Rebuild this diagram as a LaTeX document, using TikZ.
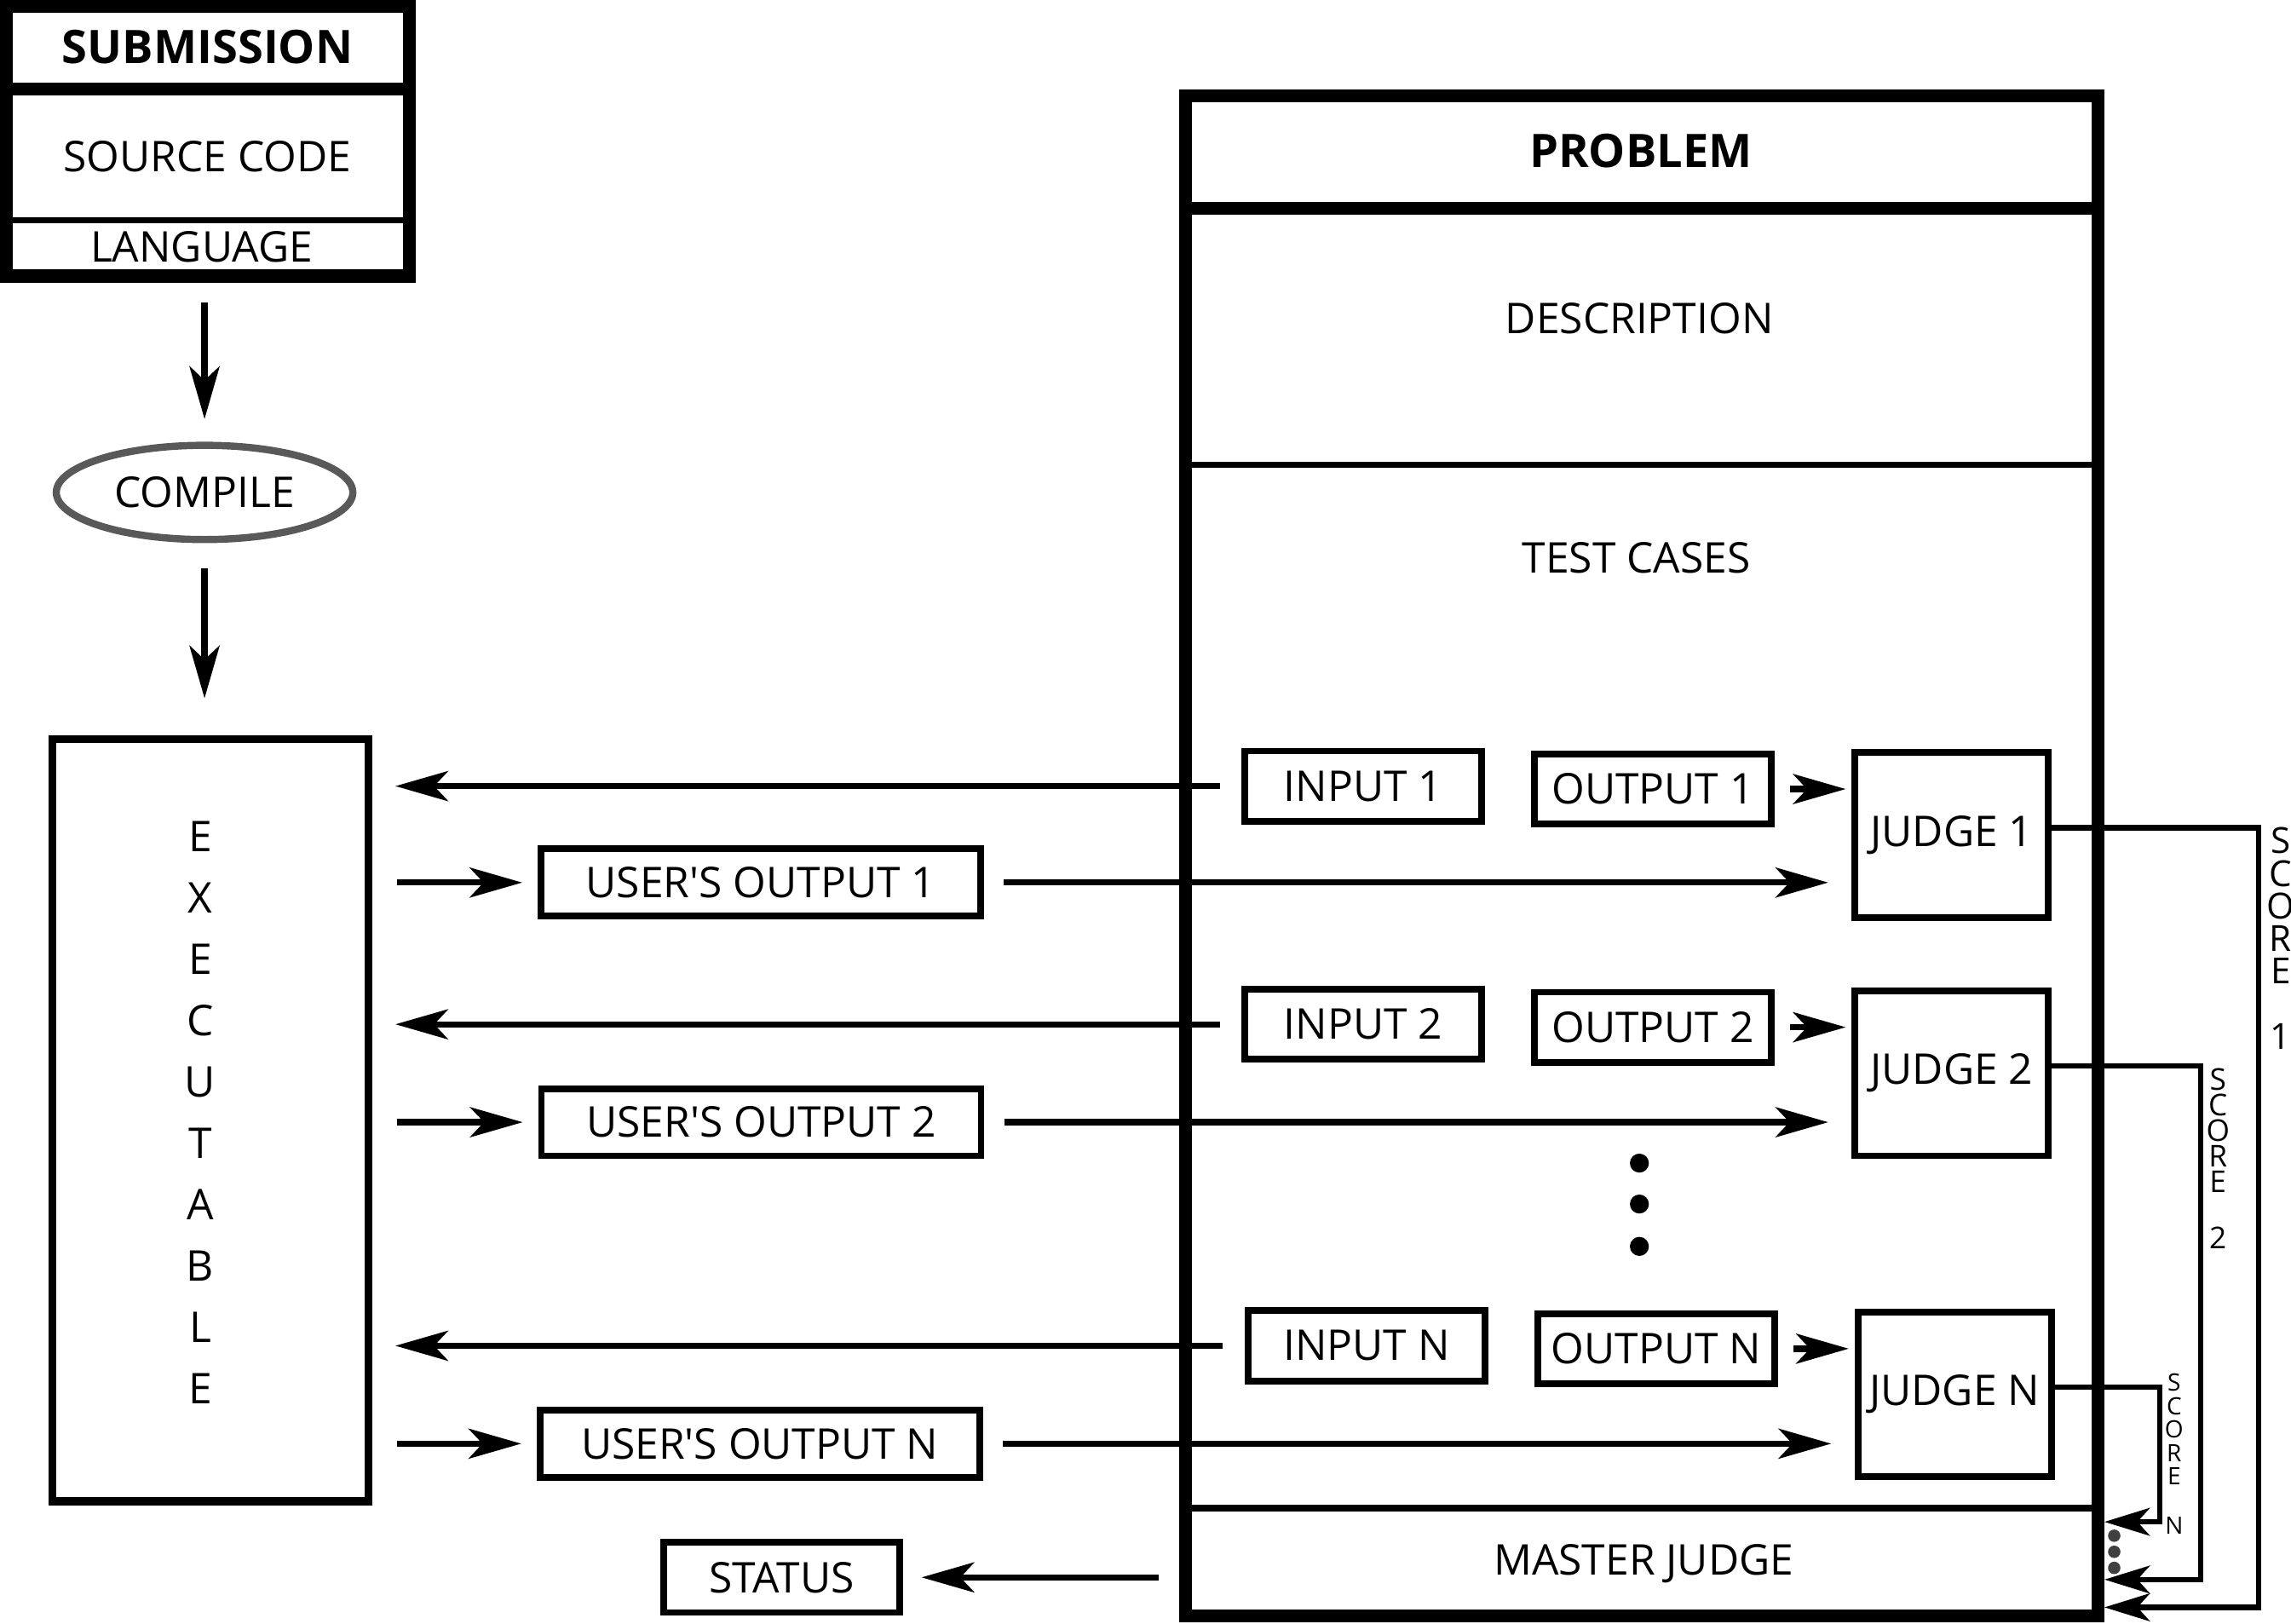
\documentclass[tikz,border=0pt]{standalone}
\usepackage{fontspec}
\setmainfont{Open Sans}
\usetikzlibrary{arrows.meta,shapes.geometric}

\begin{document}
\begin{tikzpicture}[x=0.02cm, y=-0.02cm,
		txt/.style={font=\fontsize{16.5}{20}\selectfont, inner sep=0pt},
		ttl/.style={font=\fontsize{18}{22}\selectfont\bfseries, inner sep=0pt},
		box/.style={draw, line width=2.6pt, txt, minimum width=3.24cm, minimum height=0.96cm},
		judgebox/.style={box, minimum width=2.65cm, minimum height=2.26cm},
		uobox/.style={box, minimum width=6.02cm, minimum height=0.92cm},
		arr/.style={line width=2.4pt, -{Stealth[length=0.72cm, width=0.41cm, inset=0.19cm]}},
		scorearr/.style={line width=2.1pt, -{Stealth[length=0.62cm, width=0.38cm, inset=0.17cm]}},
		vword/.style={anchor=north, inner sep=0pt, align=center}]
		%%%%% START %%%%%
		
		\useasboundingbox (0, 0) rectangle (1568, 1111);
		
		\node[draw, line width=5pt, inner sep=0pt, minimum width=5.51cm, minimum height=3.69cm] (submission) at (142.2, 96.7) {};
		\draw[line width=5pt] (4.4, 61) -- (280, 61);
		\draw[line width=2.3pt] (4.4, 151) -- (280, 151);
		\node[ttl] (subtitle) at (142, 32) {SUBMISSION};
		\node[txt] (source) at (142, 107) {SOURCE CODE};
		\node[txt] (language) at (138, 169) {LANGUAGE};
		
		\node[ellipse, draw=black!65, line width=2.8pt, txt, minimum width=4.06cm, minimum height=1.29cm] (compile) at (140, 337) {COMPILE};
		\node[draw, line width=3pt, inner sep=0pt, minimum width=4.32cm, minimum height=10.43cm] (exe) at (144, 766.75) {};
		\node[vword, font=\fontsize{16.5}{23.9}\selectfont] (exetext) at (137, 562) {E\\X\\E\\C\\U\\T\\A\\B\\L\\E};
		
		\draw[arr, shorten <=0.27cm, shorten >=0.31cm] (submission.south -| compile) -- (compile.north);
		\draw[arr, shorten <=0.34cm, shorten >=0.51cm] (compile.south) -- (compile |- exe.north);
		
		% problem
		\node[draw, line width=5pt, inner sep=0pt, minimum width=12.49cm, minimum height=20.81cm] (problem) at (1123.75, 585.75) {};
		\draw[line width=5pt] (811.5, 142.5) -- (1436, 142.5);
		\draw[line width=2.3pt] (811.5, 318) -- (1436, 318);
		\draw[line width=2.6pt] (811.5, 1032) -- (1436, 1032);
		\node[ttl] (probtitle) at (1123, 103) {PROBLEM};
		\node[txt] (description) at (1122, 218) {DESCRIPTION};
		\node[txt] (testcases) at (1120, 382) {TEST CASES};
		\node[txt] (master) at (1125, 1070) {MASTER JUDGE};
		
		\node[box] (in1) at (933, 538) {INPUT 1};
		\node[box] (out1) at (1131.25, 540) {OUTPUT 1};
		\node[judgebox] (judge1) at (1335.75, 571.5) {JUDGE 1};
		\node[box] (in2) at (933, 701) {INPUT 2};
		\node[box] (out2) at (1131.25, 703) {OUTPUT 2};
		\node[judgebox] (judge2) at (1335.75, 734.5) {JUDGE 2};
		\node[box] (inN) at (935.3, 921) {INPUT N};
		\node[box] (outN) at (1133.5, 923) {OUTPUT N};
		\node[judgebox] (judgeN) at (1337.8, 954.25) {JUDGE N};
		
		\fill (1122, 796) circle (0.13cm);
		\fill (1122, 824) circle (0.13cm);
		\fill (1122, 853) circle (0.13cm);
		
		\node[uobox] (uo1) at (520.7, 604) {USER\textquotesingle S OUTPUT 1};
		\node[uobox] (uo2) at (521, 768) {USER\textquotesingle S OUTPUT 2};
		\node[uobox] (uoN) at (520, 988) {USER\textquotesingle S OUTPUT N};
		\node[box] (status) at (535, 1079.5) {STATUS};
		
		\draw[arr, shorten <=0.3cm, shorten >=0.32cm] (in1.west) -- (exe.east |- in1.west);
		\draw[arr, shorten <=0.34cm, shorten >=0.21cm] (exe.east |- uo1.west) -- (uo1.west);
		\draw[arr, shorten <=0.27cm, shorten >=0.32cm] (uo1.east) -- (judge1.west |- uo1.east);
		\draw[arr, shorten <=0.21cm, shorten >=0.08cm] (out1.east) -- (judge1.west |- out1.east);
		
		\draw[arr, shorten <=0.3cm, shorten >=0.32cm] (in2.west) -- (exe.east |- in2.west);
		\draw[arr, shorten <=0.34cm, shorten >=0.21cm] (exe.east |- uo2.west) -- (uo2.west);
		\draw[arr, shorten <=0.27cm, shorten >=0.32cm] (uo2.east) -- (judge2.west |- uo2.east);
		\draw[arr, shorten <=0.21cm, shorten >=0.08cm] (out2.east) -- (judge2.west |- out2.east);
		
		\draw[arr, shorten <=0.3cm, shorten >=0.32cm] (inN.west) -- (exe.east |- inN.west);
		\draw[arr, shorten <=0.34cm, shorten >=0.21cm] (exe.east |- uoN.west) -- (uoN.west);
		\draw[arr, shorten <=0.27cm, shorten >=0.32cm] (uoN.east) -- (judgeN.west |- uoN.east);
		\draw[arr, shorten <=0.21cm, shorten >=0.08cm] (outN.east) -- (judgeN.west |- outN.east);
		
		\draw[arr, shorten <=0.28cm, shorten >=0.25cm] (problem.west |- status) -- (status.east);
		
		% scores
		\coordinate (s1) at (1546, 1100);
		\coordinate (s2) at (1506, 1081);
		\coordinate (sN) at (1478, 1041.5);
		\draw[scorearr] ([yshift=0.1cm]judge1.east) -| (s1) -- (problem.east |- s1);
		\draw[scorearr] ([yshift=0.1cm]judge2.east) -| (s2) -- (problem.east |- s2);
		\draw[scorearr] ([yshift=0.1cm]judgeN.east) -| (sN) -- (problem.east |- sN);
		\node[vword, font=\fontsize{14}{12.7}\selectfont] (score1) at (1561, 566) {S\\C\\O\\R\\E\\[12.7pt]1};
		\node[vword, font=\fontsize{11.7}{10}\selectfont] (score2) at (1518, 730.7) {S\\C\\O\\R\\E\\[11.9pt]2};
		\node[vword, font=\fontsize{9.3}{9.1}\selectfont] (scoreN) at (1488, 940) {S\\C\\O\\R\\E\\[10.2pt]N};
		
		\fill[black!75] (1447, 1051) circle (0.085cm);
		\fill[black!75] (1447, 1062) circle (0.085cm);
		\fill[black!75] (1447, 1073) circle (0.085cm);
		
		%%%%% END %%%%%
	\end{tikzpicture}
\end{document}
